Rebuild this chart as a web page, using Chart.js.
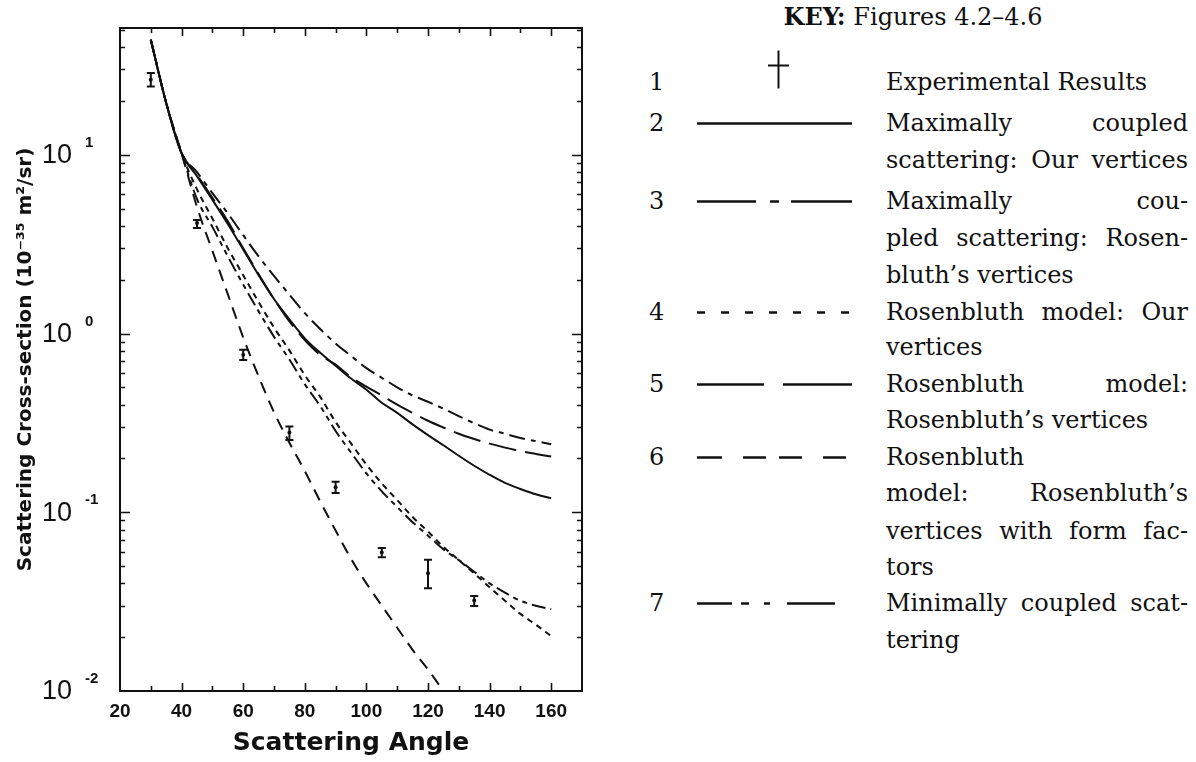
<!DOCTYPE html>
<html><head><meta charset="utf-8">
<script src="https://cdn.jsdelivr.net/npm/chart.js@4.4.1/dist/chart.umd.min.js"></script>
<style>
html,body{margin:0;padding:0;background:#fff;}
#wrap{position:relative;width:1196px;height:762px;overflow:hidden;background:#fff;}
#chartBox{position:absolute;left:0;top:0;width:600px;height:762px;}
.lg{position:absolute;font-family:'DejaVu Serif',serif;font-size:24px;color:#111;white-space:nowrap;line-height:30px;height:30px;}
.txt{left:886px;width:302px;}
.just{text-align:justify;text-align-last:justify;}
.num{left:649px;}
#keys{position:absolute;left:0;top:0;}
</style></head><body>
<div id="wrap">
<div id="chartBox"><canvas id="c" width="600" height="762"></canvas></div>
<div id="legend"></div>
<svg id="keys" width="1196" height="762"></svg>
</div>
<script>
// ---- data ----
const angles = [30,35,40,45,50,55,60,65,70,75,80,85,90,95,100,105,110,115,120,125,130,135,140,145,150,155,160];
const maxCoupledOurs = [44,19.5,10.2,7.6,5.6,4.1,2.95,2.12,1.56,1.2,0.94,0.78,0.66,0.56,0.485,0.41,0.36,0.31,0.27,0.237,0.207,0.182,0.162,0.146,0.135,0.126,0.12];
const maxCoupledRosen = [44,19.5,10.2,8.0,6.1,4.7,3.55,2.7,2.1,1.65,1.3,1.06,0.88,0.75,0.64,0.565,0.5,0.45,0.415,0.38,0.345,0.315,0.29,0.275,0.26,0.25,0.24];
const rosenOurs = [44,19.5,10.2,6.4,4.4,3.0,2.12,1.5,1.08,0.805,0.585,0.442,0.32,0.243,0.185,0.145,0.117,0.094,0.078,0.064,0.054,0.0455,0.038,0.032,0.027,0.0235,0.0203];
const rosenRosen = [44,19.5,10.2,7.7,5.75,4.25,3.0,2.15,1.56,1.17,0.92,0.76,0.67,0.57,0.505,0.45,0.40,0.36,0.325,0.298,0.275,0.257,0.242,0.23,0.22,0.212,0.205];
const rosenFormFactors = [44,19.5,10.2,5.1,2.9,1.66,0.95,0.575,0.363,0.245,0.17,0.115,0.079,0.055,0.04,0.030,0.0226,0.017,0.0132,0.01,0.0077,null,null,null,null,null,null];
const minCoupled = [44,19.5,10.2,5.65,3.95,2.7,1.88,1.33,0.96,0.715,0.52,0.393,0.285,0.216,0.165,0.131,0.107,0.088,0.074,0.062,0.054,0.0465,0.040,0.0355,0.032,0.030,0.0287];
const expAngles = [30,45,60,75,90,105,120,135];
const expValues = [26.3,4.15,0.76,0.279,0.138,0.0595,0.0456,0.0321];
const expLow = [24.1,3.89,0.71,0.254,0.128,0.056,0.0376,0.0299];
const expHigh = [28.7,4.32,0.81,0.302,0.148,0.063,0.0542,0.034];
const xTicks = [20,40,60,80,100,120,140,160];
const yTicks = [0.01,0.1,1,10];
const yTickExponents = ['-2','-1','0','1'];
const xTitle = 'Scattering Angle';
const yTitle = 'Scattering Cross-section (10\u207B\u00B3\u2075 m\u00B2/sr)';

const INK = '#111';
function pts(arr){ return angles.map((a,i)=>({x:a,y:arr[i]})); }
function curve(arr, dash){
  return {type:'line', data:pts(arr), borderColor:INK, borderWidth:2, borderDash:dash,
    pointRadius:0, fill:false, cubicInterpolationMode:'monotone', spanGaps:false};
}

const errorBars = {
  id:'errorBars',
  afterDatasetsDraw(chart){
    const {ctx, scales:{x,y}} = chart;
    ctx.save();
    ctx.strokeStyle = INK; ctx.lineWidth = 2;
    expAngles.forEach((a,i)=>{
      const px = x.getPixelForValue(a);
      const lo = y.getPixelForValue(expLow[i]);
      const hi = y.getPixelForValue(expHigh[i]);
      ctx.beginPath();
      ctx.moveTo(px, lo); ctx.lineTo(px, hi);
      ctx.moveTo(px-4, lo); ctx.lineTo(px+4, lo);
      ctx.moveTo(px-4, hi); ctx.lineTo(px+4, hi);
      ctx.stroke();
    });
    ctx.restore();
  }
};

const frameTicks = {
  id:'frameTicks',
  afterDraw(chart){
    const {ctx, chartArea:a, scales:{x,y}} = chart;
    ctx.save();
    ctx.strokeStyle = INK;
    ctx.lineWidth = 2;
    ctx.strokeRect(a.left, a.top, a.right-a.left, a.bottom-a.top);
    ctx.lineWidth = 1.6;
    ctx.beginPath();
    for (let v = x.min + 10; v < x.max; v += 10){
      const px = Math.round(x.getPixelForValue(v)) + 0.5;
      const len = (v % 20 === 0) ? 8 : 5;
      ctx.moveTo(px, a.bottom); ctx.lineTo(px, a.bottom - len);
      ctx.moveTo(px, a.top); ctx.lineTo(px, a.top + len);
    }
    for (let e = -2; e <= 1; e++){
      for (let m = 1; m <= 9; m++){
        const v = m * Math.pow(10, e);
        if (v <= y.min || v >= y.max) continue;
        const py = Math.round(y.getPixelForValue(v)) + 0.5;
        const len = m === 1 ? 10 : 5;
        ctx.moveTo(a.left, py); ctx.lineTo(a.left + len, py);
        ctx.moveTo(a.right, py); ctx.lineTo(a.right - len, py);
      }
    }
    ctx.stroke();
    // y tick labels: 10 with exponent
    ctx.fillStyle = INK;
    yTicks.forEach((v,i)=>{
      const py = y.getPixelForValue(v);
      ctx.font = '27px "Liberation Sans"';
      ctx.textAlign = 'right'; ctx.textBaseline = 'middle';
      ctx.fillText('10', 72, py + 1);
      ctx.font = 'bold 15px "Liberation Sans"';
      ctx.textAlign = 'left';
      ctx.fillText(yTickExponents[i], 85, py - 12);
    });
    ctx.restore();
  }
};

new Chart(document.getElementById('c'), {
  data:{ datasets:[
    curve(maxCoupledOurs, []),
    curve(maxCoupledRosen, [16,6,5,6]),
    curve(rosenOurs, [6,5]),
    curve(rosenRosen, [28,9]),
    curve(rosenFormFactors, [12,8]),
    curve(minCoupled, [14,5,5,5,5,5]),
    {type:'scatter', data: expAngles.map((a,i)=>({x:a,y:expValues[i]})), pointRadius:2,
     backgroundColor:INK, borderWidth:0}
  ]},
  options:{
    responsive:false, animation:false, devicePixelRatio:1,
    layout:{padding:{left:0, right:18, top:28, bottom:0}},
    plugins:{legend:{display:false}, tooltip:{enabled:false}},
    scales:{
      x:{type:'linear', min:20, max:170,
        afterBuildTicks:s=>{ s.ticks = xTicks.map(v=>({value:v})); },
        afterFit:s=>{ s.height = 71; },
        grid:{display:false, drawTicks:false}, border:{display:false},
        ticks:{color:INK, padding:9, maxRotation:0, autoSkip:false,
          font:{family:'Liberation Sans', weight:'bold', size:19}},
        title:{display:true, text:xTitle, color:INK, padding:{top:0,bottom:4},
          font:{family:'DejaVu Sans', weight:'bold', size:25}}
      },
      y:{type:'logarithmic', min:0.01, max:51.2,
        afterBuildTicks:s=>{ s.ticks = yTicks.map(v=>({value:v})); },
        afterFit:s=>{ s.width = 120; },
        grid:{display:false, drawTicks:false}, border:{display:false},
        ticks:{display:false},
        title:{display:true, text:yTitle, color:INK, padding:{top:14,bottom:0},
          font:{family:'DejaVu Sans', weight:'bold', size:20}}
      }
    }
  },
  plugins:[errorBars, frameTicks]
});

// ---- legend (key) ----
const keyTitleBold = 'KEY:';
const keyTitleRest = ' Figures 4.2\u20134.6';
const legendItems = [
  {num:'1', lines:[['Experimental Results',false]]},
  {num:'2', lines:[['Maximally coupled',true],['scattering: Our vertices',true]]},
  {num:'3', lines:[['Maximally cou-',true],['pled scattering: Rosen-',true],['bluth\u2019s vertices',false]]},
  {num:'4', lines:[['Rosenbluth model: Our',true],['vertices',false]]},
  {num:'5', lines:[['Rosenbluth model:',true],['Rosenbluth\u2019s vertices',false]]},
  {num:'6', lines:[['Rosenbluth',false],['model: Rosenbluth\u2019s',true],['vertices with form fac-',true],['tors',false]]},
  {num:'7', lines:[['Minimally coupled scat-',true],['tering',false]]}
];
const rowY = [82,123,160,201,238,275,312,347,384,420,457,493,531,567,603,640];
const lg = document.getElementById('legend');
const t = document.createElement('div');
t.className = 'lg';
t.style.left = '913px'; t.style.top = (17-15)+'px'; t.style.transform = 'translateX(-50%)';
t.innerHTML = '<b>'+keyTitleBold+'</b>'+keyTitleRest;
lg.appendChild(t);
let r = 0;
const itemY = [];
legendItems.forEach(it=>{
  itemY.push(rowY[r]);
  const n = document.createElement('div');
  n.className = 'lg num'; n.style.top = (rowY[r]-15)+'px'; n.textContent = it.num;
  lg.appendChild(n);
  it.lines.forEach(([txt,j])=>{
    const d = document.createElement('div');
    d.className = 'lg txt' + (j ? ' just' : '');
    d.style.top = (rowY[r]-15)+'px';
    d.textContent = txt;
    lg.appendChild(d);
    r++;
  });
});
// key samples
const keySegs = [
  null,
  [[697,852]],
  [[697,756],[770,779],[791,852]],
  [[697,705],[721,729],[745,753],[769,777],[793,801],[817,825],[841,849]],
  [[697,764],[783,852]],
  [[697,722],[743,766],[779,802],[823,846]],
  [[697,732],[741,749],[764,770],[787,835]]
];
const svg = document.getElementById('keys');
let s = '';
keySegs.forEach((segs,i)=>{
  const yy = itemY[i] + 0.5;
  if (!segs){
    s += `<line x1="778.5" y1="${yy-32}" x2="778.5" y2="${yy+6}" stroke="${INK}" stroke-width="2"/>`;
    s += `<line x1="768" y1="${yy-17}" x2="789" y2="${yy-17}" stroke="${INK}" stroke-width="2"/>`;
  } else {
    segs.forEach(([a,b])=>{ s += `<line x1="${a}" y1="${yy}" x2="${b}" y2="${yy}" stroke="${INK}" stroke-width="2.5"/>`; });
  }
});
svg.innerHTML = s;
</script>
</body></html>
